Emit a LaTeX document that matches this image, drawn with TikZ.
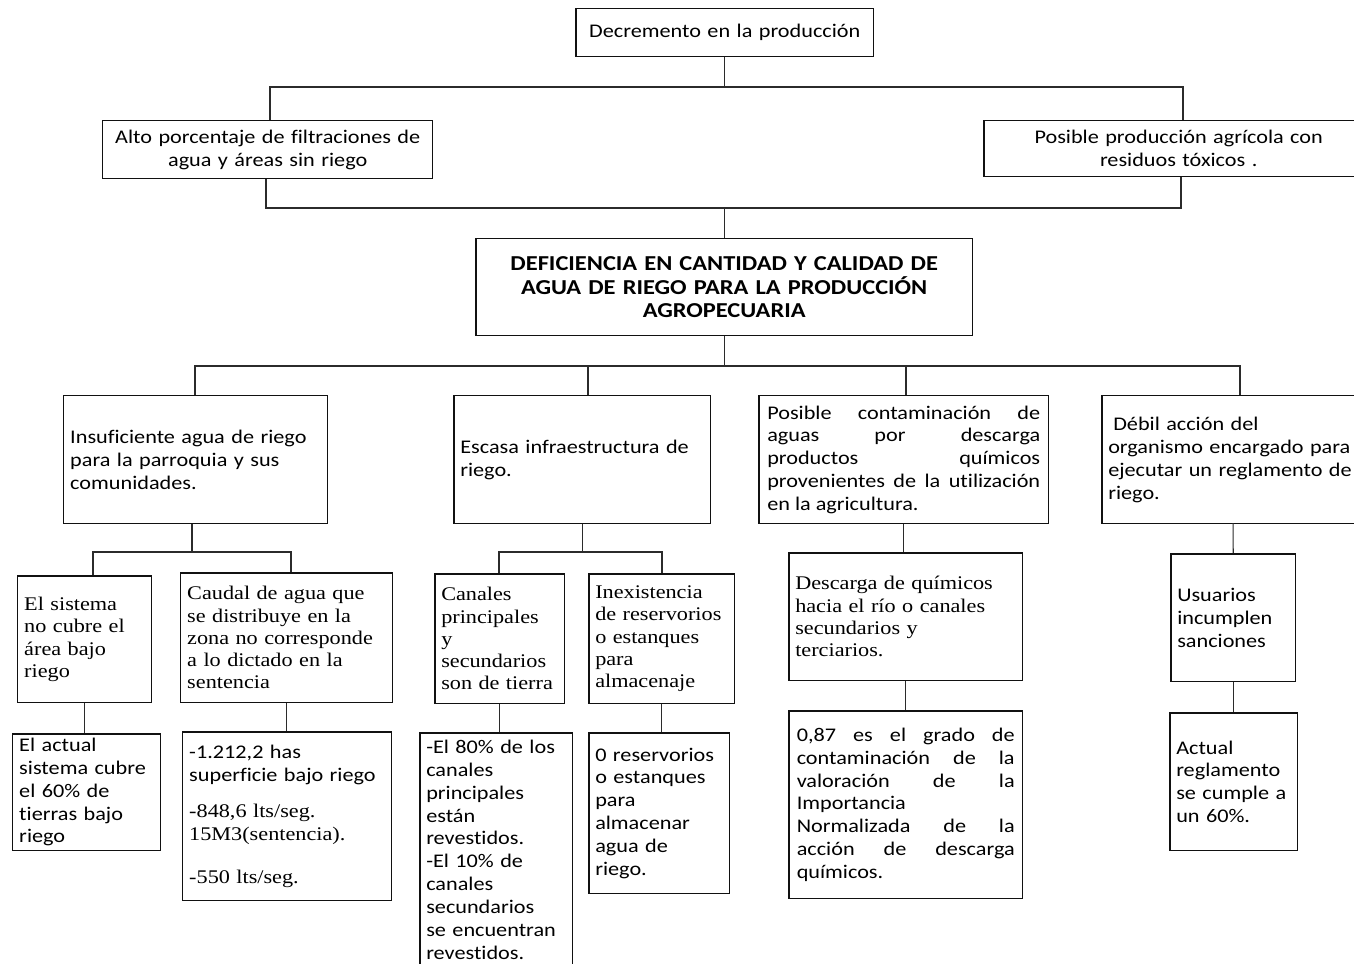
\documentclass[tikz,border=0pt]{standalone}
\usepackage{fontspec}
\setmainfont{Carlito}[FakeStretch=1.15,Ligatures=NoCommon]
\newfontfamily\timesf{Liberation Serif}[FakeStretch=1.15]
\usepackage{tikz}
\usetikzlibrary{positioning}
\definecolor{APInk}{HTML}{111111}
\definecolor{APLine}{HTML}{2B2B2B}
\tikzset{
  apbox/.style={
    rectangle,
    draw=APInk,
    line width=0.85pt,
    anchor=north west,
    inner xsep=0.13cm,
    inner ysep=0pt,
    align=left,
    font=\fontsize{11}{13}\selectfont
  },
  apserif/.style={apbox,font=\timesf\fontsize{11}{12.7}\selectfont},
  apjust/.style={apbox,align=justify,inner xsep=0.17cm},
  aptop/.style={apbox,align=center},
  aptitle/.style={aptop,font=\bfseries\fontsize{12.1}{13.4}\selectfont},
  apline/.style={draw=APLine,line width=0.6pt},
}

\begin{document}
\begin{tikzpicture}[x=0.02cm,y=-0.02cm]
  \useasboundingbox (0,0) rectangle (1354,963);
  \clip (0,0) rectangle (1354,963);

  \node[aptop,text width=5.70cm,minimum height=0.96cm] (dec) at (575,8)
    {Decremento en la producción};
  \node[aptop,text width=6.34cm,minimum height=1.16cm] (alto) at (102,120)
    {Alto porcentaje de filtraciones de\\agua y áreas sin riego};
  \node[aptop,text width=7.54cm,minimum height=1.12cm] (posprod) at (983,120)
    {Posible producción agrícola con\\residuos tóxicos .};
  \node[aptitle,text width=9.68cm,minimum height=1.94cm] (central) at (475,238)
    {DEFICIENCIA EN CANTIDAD Y CALIDAD DE\\AGUA DE RIEGO PARA LA PRODUCCIÓN\\AGROPECUARIA};

  \node[apbox,text width=5.02cm,minimum height=2.56cm] (insuf) at (63,395)
    {Insuficiente agua de riego\\para la parroquia y sus\\comunidades.};
  \node[apbox,text width=4.88cm,minimum height=2.56cm] (escasa) at (453,395)
    {Escasa infraestructura de\\riego.};
  \node[apjust,text width=5.46cm,minimum height=2.56cm] (poscont) at (758,395)
    {Posible contaminación de\linebreak aguas por descarga\linebreak
     productos químicos\linebreak provenientes de la utilización\linebreak
     en la agricultura.};
  \node[apbox,text width=5.70cm,minimum height=2.56cm] (debil) at (1101,395)
    {\hspace{0.1cm}Débil acción del\\organismo encargado para\\ejecutar un reglamento de\\riego.};

  \node[apserif,text width=2.42cm,minimum height=2.54cm] (sistema) at (17,575)
    {El sistema\\no cubre el\\área bajo\\riego};
  \node[apserif,text width=3.98cm,minimum height=2.60cm] (caudal) at (180,572)
    {Caudal de agua que\\se distribuye en la\\zona no corresponde\\a lo dictado en la\\sentencia};
  \node[apserif,text width=2.34cm,minimum height=2.60cm] (canales) at (434,573)
    {Canales\\principales\\y\\secundarios\\son de tierra};
  \node[apserif,text width=2.66cm,minimum height=2.60cm] (inexist) at (588,573)
    {Inexistencia\\de reservorios\\o estanques\\para\\almacenaje};
  \node[apserif,text width=4.42cm,minimum height=2.56cm] (descarga) at (788,552)
    {Descarga de químicos\\hacia el río o canales\\secundarios y\\terciarios.};
  \node[apbox,text width=2.24cm,minimum height=2.56cm] (usuarios) at (1170,553)
    {Usuarios\\incumplen\\sanciones};

  \node[apbox,text width=2.70cm,minimum height=2.34cm] (actual60) at (12,733)
    {El actual\\sistema cubre\\el 60\% de\\tierras bajo\\riego};
  \node[apbox,text width=3.92cm,minimum height=3.38cm] (hectareas) at (182,731)
    {-1.212,2 has\\superficie bajo riego\\[0.28cm]
     \timesf -848,6 lts/seg.\\15M3(sentencia).\\[0.40cm]-550 lts/seg.};
  \node[apbox,text width=2.80cm,minimum height=4.68cm] (revest) at (419,732)
    {-El 80\% de los\\canales\\principales\\están\\revestidos.\\-El 10\% de\\canales\\secundarios\\se encuentran\\revestidos.};
  \node[apbox,text width=2.56cm,minimum height=3.22cm] (reserv0) at (588,732)
    {0 reservorios\\o estanques\\para\\almacenar\\agua de\\riego.};
  \node[apjust,text width=4.36cm,minimum height=3.76cm,inner xsep=0.16cm] (grado) at (788,710)
    {0,87 es el grado de\linebreak contaminación de la\linebreak valoración de la\linebreak
     Importancia\linebreak Normalizada de la\linebreak acción de descarga\linebreak químicos.};
  \node[apbox,text width=2.30cm,minimum height=2.76cm] (actualreg) at (1169,712)
    {Actual\\reglamento\\se cumple a\\un 60\%.};

  \coordinate (t1) at (270,87);
  \coordinate (t2) at (1183,87);
  \coordinate (t3) at (266,208);
  \coordinate (t4) at (1181,208);
  \coordinate (m1) at (195,366);
  \coordinate (m2) at (588,366);
  \coordinate (m3) at (906,366);
  \coordinate (m4) at (1240,366);
  \coordinate (a0) at (192,552);
  \coordinate (a1) at (93,552);
  \coordinate (a2) at (291,552);
  \coordinate (b1) at (499,552);
  \coordinate (b2) at (662,552);
  \coordinate (d0) at (1233,523);

  \draw[apline] (dec.south) -- (dec.south |- t1);
  \draw[apline] (alto.north -| t1) -- (t1) -- (t2) -- (posprod.north -| t2);
  \draw[apline] (alto.south -| t3) -- (t3) -- (t4) -- (posprod.south -| t4);
  \draw[apline] (central.north) -- (central.north |- t3);
  \draw[apline] (central.south) -- (central.south |- m1);
  \draw[apline] (insuf.north -| m1) -- (m1) -- (m4) -- (debil.north -| m4);
  \draw[apline] (m2) -- (escasa.north -| m2);
  \draw[apline] (m3) -- (poscont.north -| m3);

  \draw[apline] (insuf.south -| a0) -- (a0);
  \draw[apline] (sistema.north -| a1) -- (a1) -- (a2) -- (caudal.north -| a2);
  \draw[apline] (sistema.south) -- (sistema.south |- actual60.north);
  \draw[apline] (caudal.south) -- (caudal.south |- hectareas.north);
  \draw[apline] (escasa.south) -- (escasa.south |- b1);
  \draw[apline] (canales.north -| b1) -- (b1) -- (b2) -- (inexist.north -| b2);
  \draw[apline] (canales.south) -- (canales.south |- revest.north);
  \draw[apline] (inexist.south) -- (inexist.south |- reserv0.north);
  \draw[apline] (poscont.south) -- (poscont.south |- descarga.north);
  \draw[apline] (descarga.south) -- (grado.north);
  \draw[apline] (d0) -- (usuarios.north);
  \draw[apline] (usuarios.south) -- (usuarios.south |- actualreg.north);
\end{tikzpicture}
\end{document}
